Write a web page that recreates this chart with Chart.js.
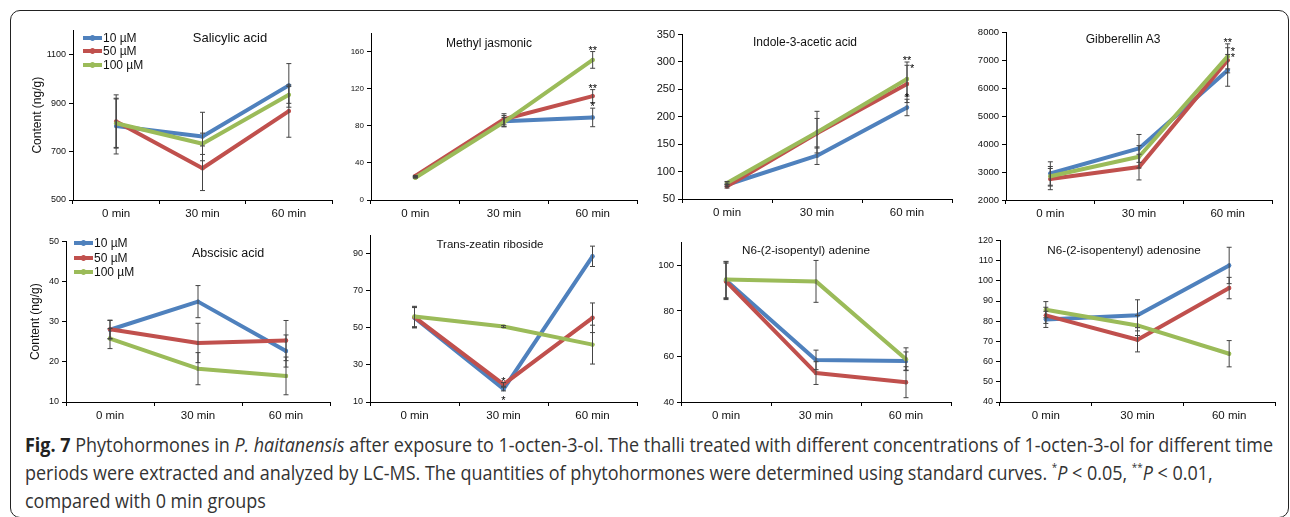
<!DOCTYPE html>
<html>
<head>
<meta charset="utf-8">
<script src="https://cdn.jsdelivr.net/npm/chart.js@4.4.0/dist/chart.umd.min.js"></script>
<style>
  html, body { margin: 0; padding: 0; background: #fff; }
  #fig { position: relative; width: 1290px; height: 517px; overflow: hidden; font-family: Arial, "Liberation Sans", sans-serif; }
  #frame { position: absolute; left: 10px; top: 10px; width: 1279px; height: 508px; border: 1.5px solid #222; border-radius: 10px; box-sizing: border-box; }
  canvas { position: absolute; }
  .ttl { position: absolute; transform: translate(-50%, -50%); white-space: nowrap; color: #111; }
  .leg { position: absolute; font-size: 12px; color: #111; white-space: nowrap; }
  .leg div { display: flex; align-items: center; }
  .leg i { display: inline-block; width: 19px; height: 4px; margin-right: 1px; position: relative; }
  .leg i::after { content: ""; position: absolute; left: 7px; top: -1px; width: 5px; height: 6px; border-radius: 50%; background: inherit; }
  #cap { position: absolute; left: 25px; top: 431px; font-family: "Open Sans", sans-serif; font-size: 20px; line-height: 28px; color: #333; white-space: nowrap; transform-origin: 0 0; }
  #cap b { color: #222; }
  #cap sup { font-size: 11px; vertical-align: 9px; line-height: 0; }
</style>
</head>
<body>
<div id="fig">
  <div id="frame"></div>
  <div id="cap">
    <div><span id="capLine1"><b>Fig. 7</b> Phytohormones in <i>P. haitanensis</i> after exposure to 1-octen-3-ol. The thalli treated with different concentrations of 1-octen-3-ol for different time</span></div>
    <div>periods were extracted and analyzed by LC-MS. The quantities of phytohormones were determined using standard curves. <sup>*</sup><i>P</i> &lt; 0.05, <sup>**</sup><i>P</i> &lt; 0.01,</div>
    <div>compared with 0 min groups</div>
  </div>
</div>
<script>
// categories
var timeLabels = ['0 min', '30 min', '60 min'];
var seriesNames = ['10 µM', '50 µM', '100 µM'];

// Salicylic acid
var saMean10 = [805, 762, 973];
var saMean50 = [824, 631, 867];
var saMean100 = [817, 732, 934];
var saErr10 = [115, 100, 90];
var saErr50 = [110, 92, 108];
var saErr100 = [100, 44, 35];
var saTicks = [500, 700, 900, 1100];

// Methyl jasmonic
var mjMean10 = [25, 85, 89];
var mjMean50 = [26, 87, 112];
var mjMean100 = [24, 84, 151];
var mjErr10 = [0.5, 6, 10];
var mjErr50 = [0.5, 6, 7];
var mjErr100 = [0.5, 5, 9];
var mjStars10 = ['', '', '*'];
var mjStars50 = ['', '', '**'];
var mjStars100 = ['', '', '**'];
var mjTicks = [0, 40, 80, 120, 160];

// Indole-3-acetic acid
var iaaMean10 = [76, 129, 217];
var iaaMean50 = [73, 170, 260];
var iaaMean100 = [79, 172, 269];
var iaaErr10 = [3, 16, 15];
var iaaErr50 = [3, 27, 34];
var iaaErr100 = [3, 38, 31];
var iaaStars10 = ['', '', '*'];
var iaaStars50 = ['', '', '*'];
var iaaStars100 = ['', '', '**'];
var iaaTicks = [50, 100, 150, 200, 250, 300, 350];

// Gibberellin A3
var gaMean10 = [2950, 3850, 6650];
var gaMean50 = [2750, 3180, 7010];
var gaMean100 = [2850, 3550, 7150];
var gaErr10 = [420, 500, 570];
var gaErr50 = [380, 460, 450];
var gaErr100 = [350, 400, 450];
var gaStars10 = ['', '', '*'];
var gaStars50 = ['', '', '*'];
var gaStars100 = ['', '', '**'];
var gaTicks = [2000, 3000, 4000, 5000, 6000, 7000, 8000];

// Abscisic acid
var abaMean10 = [28.0, 35.0, 22.7];
var abaMean50 = [28.1, 24.7, 25.3];
var abaMean100 = [25.8, 18.3, 16.5];
var abaErr10 = [2.3, 4, 4];
var abaErr50 = [2.3, 4.9, 5];
var abaErr100 = [2.5, 4, 4.7];
var abaTicks = [10, 20, 30, 40, 50];

// Trans-zeatin riboside
var zrMean10 = [55.5, 17.0, 88.7];
var zrMean50 = [55.8, 19.5, 55.5];
var zrMean100 = [56.2, 50.8, 41];
var zrErr10 = [5.5, 1, 5.5];
var zrErr50 = [5.5, 1, 8];
var zrErr100 = [5.5, 0.5, 10.5];
var zrStars10 = ['', '*', ''];
var zrStars50 = ['', '*', ''];
var zrTicks = [10, 30, 50, 70, 90];

// N6-(2-isopentyl) adenine
var ipMean10 = [93.5, 58.5, 58];
var ipMean50 = [93, 52.7, 48.7];
var ipMean100 = [93.8, 93, 58.8];
var ipErr10 = [8, 4.3, 4];
var ipErr50 = [8, 5, 6.8];
var ipErr100 = [8, 9.2, 5];
var ipTicks = [40, 60, 80, 100];

// N6-(2-isopentenyl) adenosine
var ipaMean10 = [80.9, 82.9, 107.6];
var ipaMean50 = [82.9, 70.8, 96.4];
var ipaMean100 = [85.7, 77.9, 63.9];
var ipaErr10 = [4, 7.7, 9];
var ipaErr50 = [4, 6, 5.3];
var ipaErr100 = [4, 5, 6.5];
var ipaTicks = [40, 50, 60, 70, 80, 90, 100, 110, 120];

var colors = ['#4F81BD', '#C0504D', '#9BBB59'];

Chart.defaults.font.family = 'Arial, "Liberation Sans", sans-serif';

// error bars and significance marks
var errorBarPlugin = {
  id: 'errorBars',
  afterDatasetsDraw: function(chart) {
    var ctx = chart.ctx;
    var yScale = chart.scales.y;
    ctx.save();
    ctx.strokeStyle = '#444';
    ctx.lineWidth = 1;
    chart.data.datasets.forEach(function(ds, i) {
      var meta = chart.getDatasetMeta(i);
      meta.data.forEach(function(pt, j) {
        var e = ds.errors[j];
        var yt = yScale.getPixelForValue(ds.data[j] + e);
        var yb = yScale.getPixelForValue(ds.data[j] - e);
        ctx.beginPath();
        ctx.moveTo(pt.x, yt); ctx.lineTo(pt.x, yb);
        ctx.moveTo(pt.x - 2.5, yt); ctx.lineTo(pt.x + 2.5, yt);
        ctx.moveTo(pt.x - 2.5, yb); ctx.lineTo(pt.x + 2.5, yb);
        ctx.stroke();
      });
    });
    ctx.fillStyle = '#000';
    ctx.font = '11px Arial, "Liberation Sans", sans-serif';
    ctx.textBaseline = 'alphabetic';
    chart.data.datasets.forEach(function(ds, i) {
      if (!ds.stars) return;
      var meta = chart.getDatasetMeta(i);
      meta.data.forEach(function(pt, j) {
        var s = ds.stars[j];
        if (!s) return;
        var yt = yScale.getPixelForValue(ds.data[j] + ds.errors[j]);
        var yb = yScale.getPixelForValue(ds.data[j] - ds.errors[j]);
        if (ds.starSide === 'right') {
          ctx.textAlign = 'left';
          ctx.fillText(s, pt.x + 3, yt + 7);
        } else if (ds.starSide === 'bottom') {
          ctx.textAlign = 'center';
          ctx.fillText(s, pt.x, yb + 13);
        } else {
          ctx.textAlign = 'center';
          ctx.fillText(s, pt.x, yt + 2);
        }
      });
    });
    ctx.restore();
  }
};

var fig = document.getElementById('fig');

function makePanel(p) {
  var x0 = p.left - p.yWidth;
  var y0 = p.top - 8;
  var w = p.right + 8 - x0;
  var h = p.bottom + 26 - y0;
  var cv = document.createElement('canvas');
  cv.width = w; cv.height = h;
  cv.style.left = x0 + 'px'; cv.style.top = y0 + 'px';
  cv.style.width = w + 'px'; cv.style.height = h + 'px';
  fig.appendChild(cv);

  var datasets = p.series.map(function(s, k) {
    return {
      label: seriesNames[k],
      data: s.mean,
      errors: s.err,
      stars: s.stars,
      starSide: s.side,
      borderColor: colors[k],
      backgroundColor: colors[k],
      borderWidth: 4,
      borderJoinStyle: 'round',
      borderCapStyle: 'round',
      pointRadius: 2.2,
      pointBorderWidth: 0,
      tension: 0,
      order: 2 - k
    };
  });

  new Chart(cv, {
    type: 'line',
    data: { labels: timeLabels, datasets: datasets },
    options: {
      responsive: false,
      animation: false,
      devicePixelRatio: 1,
      layout: { padding: { top: 8, right: 8, left: 0, bottom: 0 } },
      plugins: { legend: { display: false }, tooltip: { enabled: false } },
      scales: {
        x: {
          offset: true,
          grid: { display: true, drawOnChartArea: false, drawTicks: true, tickLength: 4, color: '#000', offset: true },
          border: { color: '#000', width: 1 },
          ticks: { color: '#111', font: { size: 11.5 }, padding: 3, maxRotation: 0 },
          afterFit: function(s) { s.height = 26; }
        },
        y: {
          min: p.min, max: p.max,
          grid: { display: true, drawOnChartArea: false, drawTicks: true, tickLength: 4, color: '#000' },
          border: { color: '#000', width: 1 },
          ticks: { color: '#111', font: { size: p.tickSize || 9 }, padding: 3,
            callback: function(v) { return String(v); } },
          title: { display: !!p.yTitle, text: p.yTitle || '', color: '#111', font: { size: 12 } },
          afterBuildTicks: function(s) { s.ticks = p.ticks.map(function(v) { return { value: v }; }); },
          afterFit: function(s) { s.width = p.yWidth; }
        }
      }
    },
    plugins: [errorBarPlugin]
  });

  var t = document.createElement('div');
  t.className = 'ttl';
  t.textContent = p.title;
  t.style.left = p.titleX + 'px';
  t.style.top = p.titleY + 'px';
  t.style.fontSize = p.titleSize + 'px';
  fig.appendChild(t);

  if (p.legend) {
    var lg = document.createElement('div');
    lg.className = 'leg';
    lg.style.left = p.legend.x + 'px';
    lg.style.top = p.legend.y + 'px';
    seriesNames.forEach(function(n, k) {
      var row = document.createElement('div');
      row.style.height = p.legend.gap + 'px';
      var sw = document.createElement('i');
      sw.style.background = colors[k];
      row.appendChild(sw);
      row.appendChild(document.createTextNode(n));
      lg.appendChild(row);
    });
    fig.appendChild(lg);
  }
}

var panels = [
  { title: 'Salicylic acid', titleX: 230, titleY: 37, titleSize: 13,
    left: 73, right: 332, top: 30, bottom: 200, yWidth: 47, yTitle: 'Content (ng/g)',
    min: 500, max: 1200, ticks: saTicks,
    legend: { x: 83, y: 31, gap: 13.5 },
    series: [ { mean: saMean10, err: saErr10 }, { mean: saMean50, err: saErr50 }, { mean: saMean100, err: saErr100 } ] },
  { title: 'Methyl jasmonic', titleX: 489, titleY: 43, titleSize: 12,
    left: 371, right: 637, top: 33, bottom: 200, yWidth: 45, tickSize: 8,
    min: 0, max: 180, ticks: mjTicks,
    series: [ { mean: mjMean10, err: mjErr10, stars: mjStars10 }, { mean: mjMean50, err: mjErr50, stars: mjStars50 }, { mean: mjMean100, err: mjErr100, stars: mjStars100 } ] },
  { title: 'Indole-3-acetic acid', titleX: 805, titleY: 42, titleSize: 12,
    left: 682, right: 952, top: 33, bottom: 199, yWidth: 45, tickSize: 11,
    min: 50, max: 350, ticks: iaaTicks,
    series: [ { mean: iaaMean10, err: iaaErr10, stars: iaaStars10 }, { mean: iaaMean50, err: iaaErr50, stars: iaaStars50, side: 'right' }, { mean: iaaMean100, err: iaaErr100, stars: iaaStars100 } ] },
  { title: 'Gibberellin A3', titleX: 1123, titleY: 39, titleSize: 12,
    left: 1006, right: 1272, top: 32, bottom: 200, yWidth: 45, tickSize: 9.5,
    min: 2000, max: 8000, ticks: gaTicks,
    series: [ { mean: gaMean10, err: gaErr10, stars: gaStars10, side: 'right' }, { mean: gaMean50, err: gaErr50, stars: gaStars50, side: 'right' }, { mean: gaMean100, err: gaErr100, stars: gaStars100 } ] },
  { title: 'Abscisic acid', titleX: 228, titleY: 253, titleSize: 12.5,
    left: 66, right: 330, top: 241, bottom: 402, yWidth: 42, yTitle: 'Content (ng/g)',
    min: 10, max: 50, ticks: abaTicks,
    legend: { x: 74, y: 236, gap: 14.5 },
    series: [ { mean: abaMean10, err: abaErr10 }, { mean: abaMean50, err: abaErr50 }, { mean: abaMean100, err: abaErr100 } ] },
  { title: 'Trans-zeatin riboside', titleX: 490, titleY: 244, titleSize: 11.5,
    left: 370, right: 637, top: 235, bottom: 402, yWidth: 45,
    min: 10, max: 100, ticks: zrTicks,
    series: [ { mean: zrMean10, err: zrErr10, stars: zrStars10, side: 'bottom' }, { mean: zrMean50, err: zrErr50, stars: zrStars50 }, { mean: zrMean100, err: zrErr100 } ] },
  { title: 'N6-(2-isopentyl) adenine', titleX: 806, titleY: 249, titleSize: 11.7,
    left: 681, right: 951, top: 242, bottom: 402, yWidth: 45, tickSize: 9.5,
    min: 40, max: 110, ticks: ipTicks,
    series: [ { mean: ipMean10, err: ipErr10 }, { mean: ipMean50, err: ipErr50 }, { mean: ipMean100, err: ipErr100 } ] },
  { title: 'N6-(2-isopentenyl) adenosine', titleX: 1124, titleY: 249, titleSize: 11.7,
    left: 1000, right: 1275, top: 240, bottom: 402, yWidth: 45,
    min: 40, max: 120, ticks: ipaTicks,
    series: [ { mean: ipaMean10, err: ipaErr10 }, { mean: ipaMean50, err: ipaErr50 }, { mean: ipaMean100, err: ipaErr100 } ] }
];

panels.forEach(makePanel);

// squeeze caption to the width of the original line
var line1 = document.getElementById('capLine1');
var wLine = line1.getBoundingClientRect().width;
document.getElementById('cap').style.transform = 'scaleX(' + (1248 / wLine) + ')';
</script>
</body>
</html>
